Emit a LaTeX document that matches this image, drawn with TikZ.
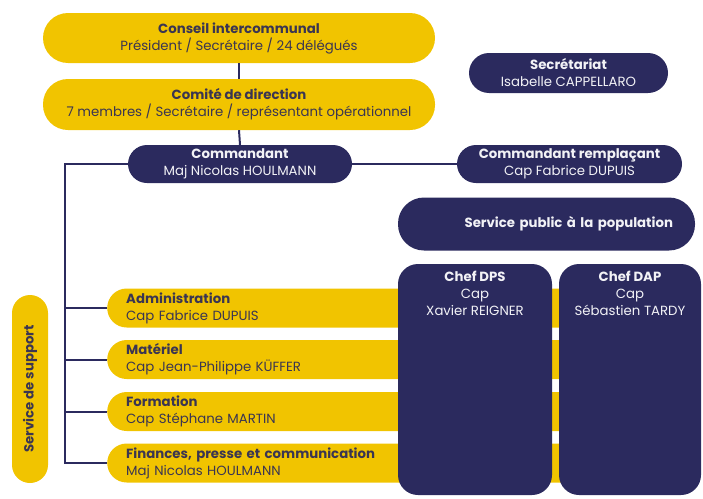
\documentclass[tikz,border=0pt]{standalone}
\usepackage{fontspec}
\setmainfont{Poppins}
\definecolor{myyellow}{HTML}{F1C400}
\definecolor{mynavy}{HTML}{2B2A5E}
\definecolor{ytext}{HTML}{3A3552}
\definecolor{ntext}{HTML}{F2F2F6}
\tikzset{
  ybox/.style={fill=myyellow, text=ytext, inner sep=0pt, align=center, font=\fontsize{13.3}{17}\selectfont},
  nbox/.style={fill=mynavy, text=ntext, inner sep=0pt, align=center, font=\fontsize{13.3}{17}\selectfont},
  barbox/.style={ybox, anchor=west, minimum width=493, minimum height=39, rounded corners=19.5, align=left, text width=455, inner xsep=19},
  conn/.style={draw=mynavy, line width=2pt},
  coltxt/.style={text=ntext, align=center, anchor=north, inner sep=0pt, font=\fontsize{13.3}{17}\selectfont}
}
\begin{document}
\begin{tikzpicture}[x=1pt,y=-1pt]
\useasboundingbox (0,0) rectangle (703,498);
\coordinate (sp1) at (65,164);
\coordinate (sp2) at (65,463);
% nodes
\node[ybox, minimum width=392, minimum height=50, rounded corners=25] (cons) at (239,38) {\textbf{Conseil intercommunal}\\Président / Secrétaire / 24 délégués};
\node[ybox, minimum width=392, minimum height=51, rounded corners=25] (com) at (239,104.5) {\textbf{Comité de direction}\\7 membres / Secrétaire / représentant opérationnel};
\node[nbox, minimum width=224, minimum height=38, rounded corners=19] (cmd) at (240,164) {\textbf{Commandant}\\Maj Nicolas HOULMANN};
\node[nbox, minimum width=199, minimum height=40, rounded corners=20] (sec) at (568.5,73) {\textbf{Secrétariat}\\Isabelle CAPPELLARO};
\node[nbox, minimum width=225, minimum height=38, rounded corners=19] (remp) at (569.5,164) {\textbf{Commandant remplaçant}\\Cap Fabrice DUPUIS};
\node[nbox, minimum width=297, minimum height=53, rounded corners=26, text width=253, inner xsep=22, align=right] (spp) at (546.5,224) {\textbf{Service public à la population}};
% support bars
\node[barbox] (adm) at (107,308) {\textbf{Administration}\\Cap Fabrice DUPUIS};
\node[barbox] (mat) at (107,359.5) {\textbf{Matériel}\\Cap Jean-Philippe KÜFFER};
\node[barbox] (form) at (107,411.5) {\textbf{Formation}\\Cap Stéphane MARTIN};
\node[barbox] (fin) at (107,463) {\textbf{Finances, presse et communication}\\Maj Nicolas HOULMANN};
\node[ybox, rotate=90, minimum width=188, minimum height=36, rounded corners=18] (sup) at (30,389) {\textbf{Service de support}};
% columns
\node[fill=mynavy, minimum width=154, minimum height=231, rounded corners=20, inner sep=0pt] (dps) at (475,379.5) {};
\node[fill=mynavy, minimum width=142, minimum height=231, rounded corners=20, inner sep=0pt] (dap) at (630,379.5) {};
\node[coltxt] (dpst) at ([yshift=-7]dps.north) {\textbf{Chef DPS}\\Cap\\Xavier REIGNER};
\node[coltxt] (dapt) at ([yshift=-7]dap.north) {\textbf{Chef DAP}\\Cap\\Sébastien TARDY};
% connectors
\draw[conn] (cons.south) -- (com.north);
\draw[conn] (com.south) -- (cmd.north);
\draw[conn] (cmd.east) -- (remp.west);
\draw[conn] (cmd.west) -- (sp1) -- (sp2) -- (fin.west);
\draw[conn] (adm.west) -- (adm.west -| sp1);
\draw[conn] (mat.west) -- (mat.west -| sp1);
\draw[conn] (form.west) -- (form.west -| sp1);
\end{tikzpicture}
\end{document}
